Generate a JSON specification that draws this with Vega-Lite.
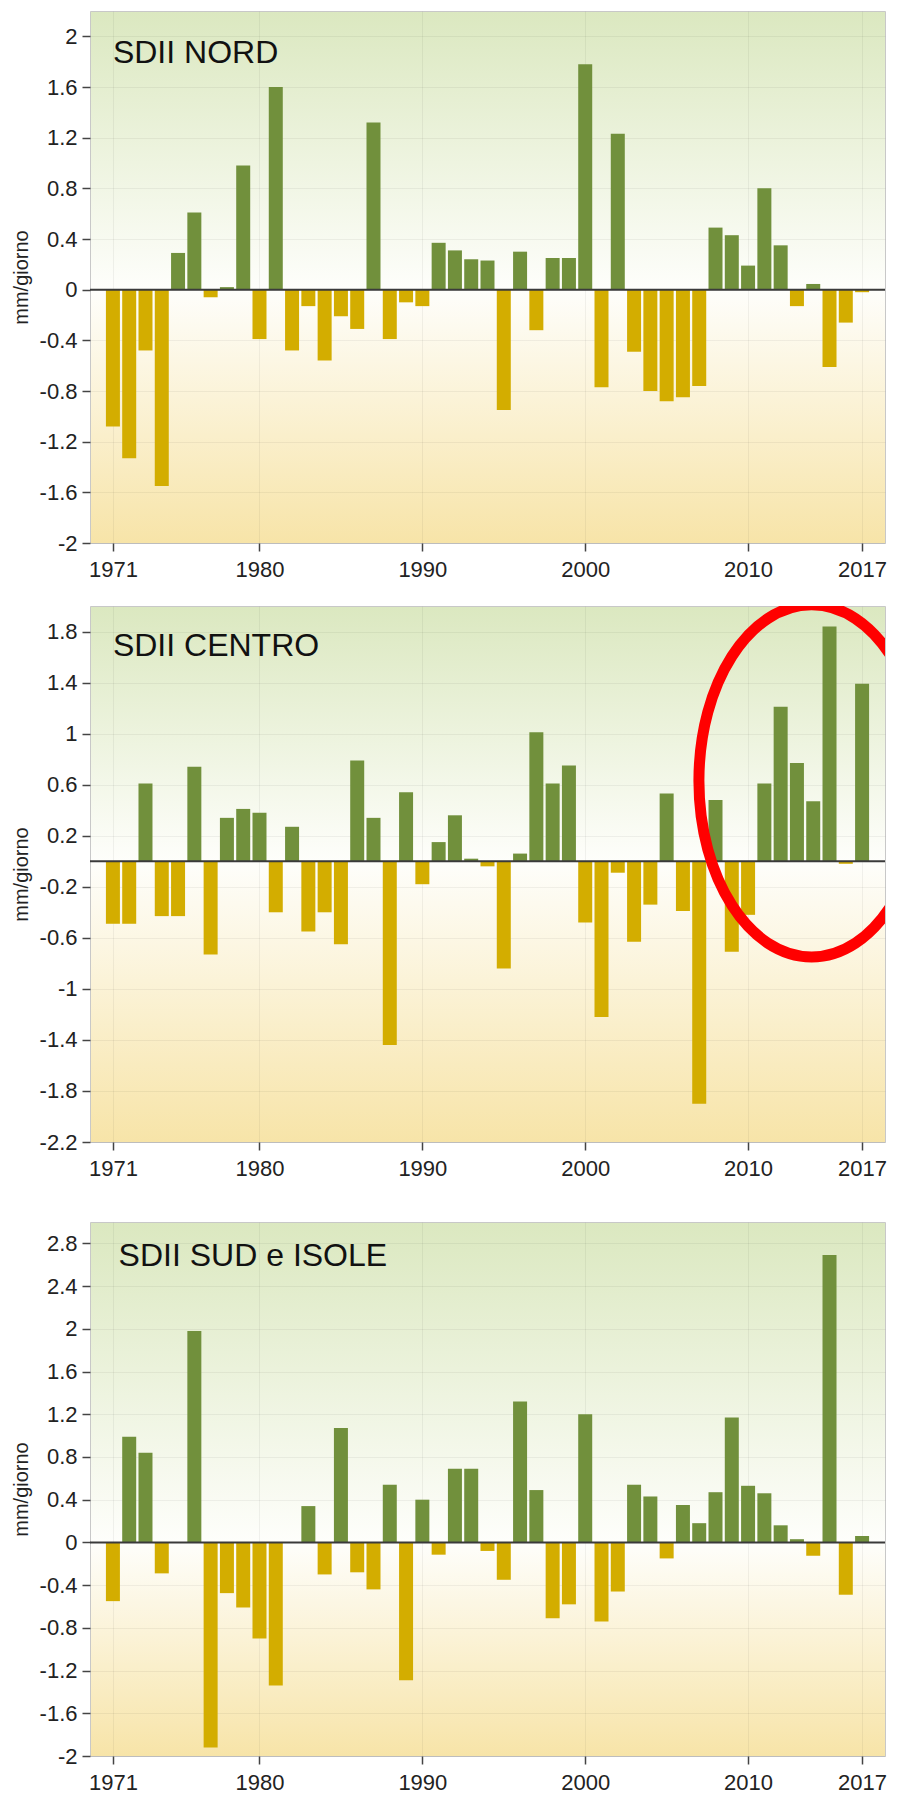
{
  "$schema": "https://vega.github.io/schema/vega-lite/v6.json",
  "background": "white",
  "padding": {"left": 10, "top": 10, "right": 0, "bottom": 0},
  "datasets": {
    "nord": [
      {"year": 1971, "value": -1.08}, {"year": 1972, "value": -1.33}, {"year": 1973, "value": -0.48}, {"year": 1974, "value": -1.55},
      {"year": 1975, "value": 0.29}, {"year": 1976, "value": 0.61}, {"year": 1977, "value": -0.06}, {"year": 1978, "value": 0.02},
      {"year": 1979, "value": 0.98}, {"year": 1980, "value": -0.39}, {"year": 1981, "value": 1.6}, {"year": 1982, "value": -0.48},
      {"year": 1983, "value": -0.13}, {"year": 1984, "value": -0.56}, {"year": 1985, "value": -0.21}, {"year": 1986, "value": -0.31},
      {"year": 1987, "value": 1.32}, {"year": 1988, "value": -0.39}, {"year": 1989, "value": -0.1}, {"year": 1990, "value": -0.13},
      {"year": 1991, "value": 0.37}, {"year": 1992, "value": 0.31}, {"year": 1993, "value": 0.24}, {"year": 1994, "value": 0.23},
      {"year": 1995, "value": -0.95}, {"year": 1996, "value": 0.3}, {"year": 1997, "value": -0.32}, {"year": 1998, "value": 0.25},
      {"year": 1999, "value": 0.25}, {"year": 2000, "value": 1.78}, {"year": 2001, "value": -0.77}, {"year": 2002, "value": 1.23},
      {"year": 2003, "value": -0.49}, {"year": 2004, "value": -0.8}, {"year": 2005, "value": -0.88}, {"year": 2006, "value": -0.85},
      {"year": 2007, "value": -0.76}, {"year": 2008, "value": 0.49}, {"year": 2009, "value": 0.43}, {"year": 2010, "value": 0.19},
      {"year": 2011, "value": 0.8}, {"year": 2012, "value": 0.35}, {"year": 2013, "value": -0.13}, {"year": 2014, "value": 0.045},
      {"year": 2015, "value": -0.61}, {"year": 2016, "value": -0.26}, {"year": 2017, "value": -0.02}
    ],
    "centro": [
      {"year": 1971, "value": -0.49}, {"year": 1972, "value": -0.49}, {"year": 1973, "value": 0.61}, {"year": 1974, "value": -0.43},
      {"year": 1975, "value": -0.43}, {"year": 1976, "value": 0.74}, {"year": 1977, "value": -0.73}, {"year": 1978, "value": 0.34},
      {"year": 1979, "value": 0.41}, {"year": 1980, "value": 0.38}, {"year": 1981, "value": -0.4}, {"year": 1982, "value": 0.27},
      {"year": 1983, "value": -0.55}, {"year": 1984, "value": -0.4}, {"year": 1985, "value": -0.65}, {"year": 1986, "value": 0.79},
      {"year": 1987, "value": 0.34}, {"year": 1988, "value": -1.44}, {"year": 1989, "value": 0.54}, {"year": 1990, "value": -0.18},
      {"year": 1991, "value": 0.15}, {"year": 1992, "value": 0.36}, {"year": 1993, "value": 0.02}, {"year": 1994, "value": -0.04},
      {"year": 1995, "value": -0.84}, {"year": 1996, "value": 0.06}, {"year": 1997, "value": 1.01}, {"year": 1998, "value": 0.61},
      {"year": 1999, "value": 0.75}, {"year": 2000, "value": -0.48}, {"year": 2001, "value": -1.22}, {"year": 2002, "value": -0.09},
      {"year": 2003, "value": -0.63}, {"year": 2004, "value": -0.34}, {"year": 2005, "value": 0.53}, {"year": 2006, "value": -0.39},
      {"year": 2007, "value": -1.9}, {"year": 2008, "value": 0.48}, {"year": 2009, "value": -0.71}, {"year": 2010, "value": -0.42},
      {"year": 2011, "value": 0.61}, {"year": 2012, "value": 1.21}, {"year": 2013, "value": 0.77}, {"year": 2014, "value": 0.47},
      {"year": 2015, "value": 1.84}, {"year": 2016, "value": -0.02}, {"year": 2017, "value": 1.39}
    ],
    "sud": [
      {"year": 1971, "value": -0.55}, {"year": 1972, "value": 0.99}, {"year": 1973, "value": 0.84}, {"year": 1974, "value": -0.29},
      {"year": 1976, "value": 1.98}, {"year": 1977, "value": -1.92}, {"year": 1978, "value": -0.475},
      {"year": 1979, "value": -0.61}, {"year": 1980, "value": -0.9}, {"year": 1981, "value": -1.34},
      {"year": 1983, "value": 0.34}, {"year": 1984, "value": -0.3}, {"year": 1985, "value": 1.07}, {"year": 1986, "value": -0.28},
      {"year": 1987, "value": -0.44}, {"year": 1988, "value": 0.54}, {"year": 1989, "value": -1.29}, {"year": 1990, "value": 0.4},
      {"year": 1991, "value": -0.115}, {"year": 1992, "value": 0.69}, {"year": 1993, "value": 0.69}, {"year": 1994, "value": -0.08},
      {"year": 1995, "value": -0.35}, {"year": 1996, "value": 1.32}, {"year": 1997, "value": 0.49}, {"year": 1998, "value": -0.71},
      {"year": 1999, "value": -0.58}, {"year": 2000, "value": 1.2}, {"year": 2001, "value": -0.74}, {"year": 2002, "value": -0.46},
      {"year": 2003, "value": 0.54}, {"year": 2004, "value": 0.43}, {"year": 2005, "value": -0.15}, {"year": 2006, "value": 0.35},
      {"year": 2007, "value": 0.18}, {"year": 2008, "value": 0.47}, {"year": 2009, "value": 1.17}, {"year": 2010, "value": 0.53},
      {"year": 2011, "value": 0.46}, {"year": 2012, "value": 0.16}, {"year": 2013, "value": 0.03}, {"year": 2014, "value": -0.125},
      {"year": 2015, "value": 2.69}, {"year": 2016, "value": -0.49}, {"year": 2017, "value": 0.06}
    ]
  },
  "vconcat": [
    {
      "spacing": 24,
      "vconcat": [
        {
          "width": 795, "height": 532,
          "view": {"stroke": "#c8c8c8", "fill": {"gradient": "linear", "x1": 0, "y1": 0, "x2": 0, "y2": 1, "stops": [{"offset": 0, "color": "#dbe8c0"}, {"offset": 0.524, "color": "#fefefb"}, {"offset": 1, "color": "#f7e4a8"}]}},
          "layer": [
            {
              "data": {"name": "nord"},
              "mark": {"type": "bar", "size": 14},
              "encoding": {
                "x": {"field": "year", "type": "quantitative", "scale": {"domain": [1969.9, 2018.1], "nice": false, "zero": false},
                      "axis": {"values": [1971, 1980, 1990, 2000, 2010, 2017], "format": "d", "title": null, "labelFlush": false}},
                "y": {"field": "value", "type": "quantitative", "scale": {"domain": [-2, 2.2], "nice": false},
                      "axis": {"values": [-2, -1.6, -1.2, -0.8, -0.4, 0, 0.4, 0.8, 1.2, 1.6, 2], "labelExpr": "'' + datum.value", "title": "mm/giorno", "labelPadding": 5}},
                "color": {"condition": {"test": "datum.value >= 0", "value": "#71903c"}, "value": "#d3ad00"}
              }
            },
            {"data": {"values": [{}]}, "mark": {"type": "rule", "color": "#3a3a3a", "strokeWidth": 2}, "encoding": {"y": {"datum": 0}}},
            {"data": {"values": [{"label": "SDII NORD"}]}, "mark": {"type": "text", "align": "left", "baseline": "alphabetic", "fontSize": 32, "color": "#111111"},
             "encoding": {"x": {"datum": 1971}, "y": {"datum": 1.79}, "text": {"field": "label"}}}
          ]
        },
        {
          "width": 795, "height": 536,
          "view": {"stroke": "#c8c8c8", "fill": {"gradient": "linear", "x1": 0, "y1": 0, "x2": 0, "y2": 1, "stops": [{"offset": 0, "color": "#dbe8c0"}, {"offset": 0.476, "color": "#fefefb"}, {"offset": 1, "color": "#f7e4a8"}]}},
          "layer": [
            {
              "data": {"name": "centro"},
              "mark": {"type": "bar", "size": 14},
              "encoding": {
                "x": {"field": "year", "type": "quantitative", "scale": {"domain": [1969.9, 2018.1], "nice": false, "zero": false},
                      "axis": {"values": [1971, 1980, 1990, 2000, 2010, 2017], "format": "d", "title": null, "labelFlush": false}},
                "y": {"field": "value", "type": "quantitative", "scale": {"domain": [-2.2, 2.0], "nice": false},
                      "axis": {"values": [-2.2, -1.8, -1.4, -1, -0.6, -0.2, 0.2, 0.6, 1, 1.4, 1.8], "labelExpr": "'' + datum.value", "title": "mm/giorno", "labelPadding": 5}},
                "color": {"condition": {"test": "datum.value >= 0", "value": "#71903c"}, "value": "#d3ad00"}
              }
            },
            {"data": {"values": [{}]}, "mark": {"type": "rule", "color": "#3a3a3a", "strokeWidth": 2}, "encoding": {"y": {"datum": 0}}},
            {"data": {"values": [{"label": "SDII CENTRO"}]}, "mark": {"type": "text", "align": "left", "baseline": "alphabetic", "fontSize": 32, "color": "#111111"},
             "encoding": {"x": {"datum": 1971}, "y": {"datum": 1.606}, "text": {"field": "label"}}},
            {"data": {"values": [{"note": "evidenza"}]}, "mark": {"type": "point", "clip": true, "filled": false, "stroke": "#ff0000", "strokeWidth": 11, "opacity": 1, "size": 124000,
              "shape": "M -0.64 0 A 0.64 1 0 1 0 0.64 0 A 0.64 1 0 1 0 -0.64 0 Z"},
             "encoding": {"x": {"datum": 2013.9}, "y": {"datum": 0.63}}}
          ]
        }
      ]
    },
    {
      "width": 795, "height": 534,
      "view": {"stroke": "#c8c8c8", "fill": {"gradient": "linear", "x1": 0, "y1": 0, "x2": 0, "y2": 1, "stops": [{"offset": 0, "color": "#dbe8c0"}, {"offset": 0.6, "color": "#fefefb"}, {"offset": 1, "color": "#f7e4a8"}]}},
      "layer": [
        {
          "data": {"name": "sud"},
          "mark": {"type": "bar", "size": 14},
          "encoding": {
            "x": {"field": "year", "type": "quantitative", "scale": {"domain": [1969.9, 2018.1], "nice": false, "zero": false},
                  "axis": {"values": [1971, 1980, 1990, 2000, 2010, 2017], "format": "d", "title": null, "labelFlush": false}},
            "y": {"field": "value", "type": "quantitative", "scale": {"domain": [-2, 3.0], "nice": false},
                  "axis": {"values": [-2, -1.6, -1.2, -0.8, -0.4, 0, 0.4, 0.8, 1.2, 1.6, 2, 2.4, 2.8], "labelExpr": "'' + datum.value", "title": "mm/giorno", "labelPadding": 5}},
            "color": {"condition": {"test": "datum.value >= 0", "value": "#71903c"}, "value": "#d3ad00"}
          }
        },
        {"data": {"values": [{}]}, "mark": {"type": "rule", "color": "#3a3a3a", "strokeWidth": 2}, "encoding": {"y": {"datum": 0}}},
        {"data": {"values": [{"label": "SDII SUD e ISOLE"}]}, "mark": {"type": "text", "align": "left", "baseline": "alphabetic", "fontSize": 32, "color": "#111111"},
         "encoding": {"x": {"datum": 1971.35}, "y": {"datum": 2.59}, "text": {"field": "label"}}}
      ]
    }
  ],
  "spacing": 41,
  "config": {
    "font": "Liberation Sans",
    "axis": {
      "labelFontSize": 22, "labelColor": "#222222", "labelPadding": 8,
      "tickColor": "#444444", "tickSize": 8, "tickWidth": 1.5,
      "domain": false,
      "grid": true, "gridColor": "#000000", "gridOpacity": 0.05,
      "titleFontSize": 20, "titleFontWeight": "normal", "titleColor": "#222222", "titlePadding": 8
    }
  }
}
